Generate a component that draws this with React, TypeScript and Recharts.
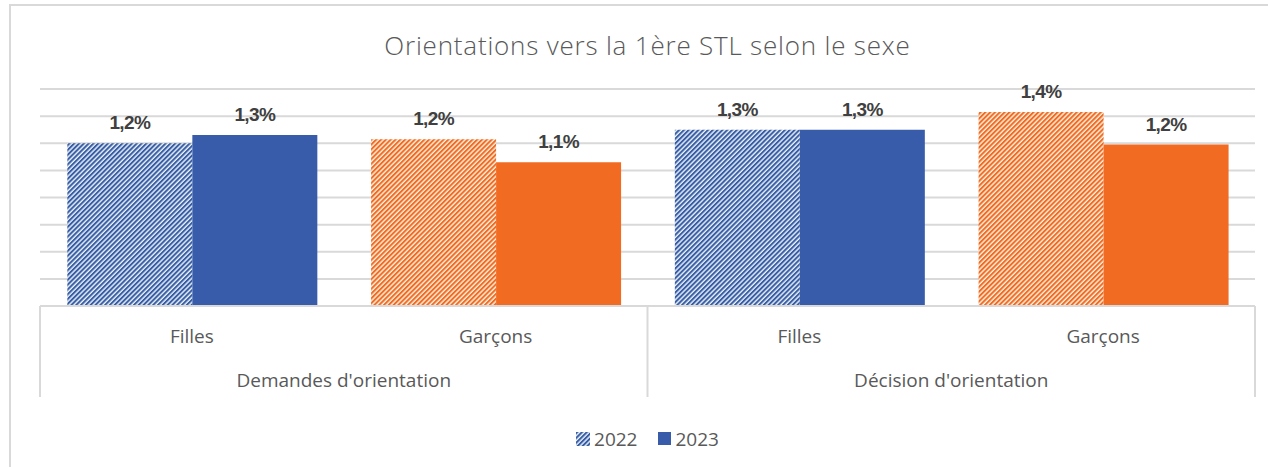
import { Bar, BarChart, CartesianGrid, Cell, LabelList, Legend, XAxis, YAxis } from "recharts";

const categories = ["Filles", "Garçons", "Filles", "Garçons"];
const groups = ["Demandes d'orientation", "Demandes d'orientation", "Décision d'orientation", "Décision d'orientation"];
const values2022 = [1.2, 1.23, 1.3, 1.43];
const values2023 = [1.26, 1.06, 1.3, 1.19];
const yTicks = [0, 0.2, 0.4, 0.6, 0.8, 1.0, 1.2, 1.4, 1.6];

const data = categories.map((c, i) => ({
  sexe: c,
  groupe: groups[i],
  v2022: values2022[i],
  v2023: values2023[i],
}));

const BLUE = "#385CAA";
const ORANGE = "#F26B23";
const TEXT = "#595959";
const GRID = "#d9d9d9";
const FONT = "'Open Sans', sans-serif";
const LABEL_FONT = "'Liberation Sans Narrow', 'Liberation Sans', sans-serif";

const fmt = (v: any) => Number(v).toFixed(1).replace(".", ",") + "%";

const SexeTick = (props: any) => {
  const { x, y, payload } = props;
  return (
    <text x={x} y={y + 37} textAnchor="middle" fill={TEXT} fontSize={19} fontFamily={FONT}>
      {payload.value}
    </text>
  );
};

const GroupTick = (props: any) => {
  const { x, y, payload, index, width, visibleTicksCount } = props;
  const band = (width || 1215) / (visibleTicksCount || 2);
  return (
    <g>
      <line x1={x - band / 2} x2={x - band / 2} y1={y - 44} y2={y + 47} stroke={GRID} strokeWidth={2} />
      {index === (visibleTicksCount || 2) - 1 && (
        <line x1={x + band / 2} x2={x + band / 2} y1={y - 44} y2={y + 47} stroke={GRID} strokeWidth={2} />
      )}
      <text x={x} y={y + 37} textAnchor="middle" fill={TEXT} fontSize={19} fontFamily={FONT}>
        {payload.value}
      </text>
    </g>
  );
};

const LegendContent = () => (
  <div
    style={{
      height: 56,
      paddingTop: 27,
      boxSizing: "border-box",
      display: "flex",
      justifyContent: "center",
      alignItems: "center",
      fontFamily: FONT,
      fontSize: 19,
      color: TEXT,
      lineHeight: "22px",
    }}
  >
    <svg width={14} height={14} style={{ marginRight: 4 }}>
      <rect width={14} height={14} fill="url(#hatchBlue)" />
    </svg>
    <span style={{ marginRight: 20 }}>2022</span>
    <svg width={13} height={13} style={{ marginRight: 5 }}>
      <rect width={13} height={13} fill={BLUE} />
    </svg>
    <span>2023</span>
  </div>
);

const labelStyle = {
  fill: "#404040",
  fontWeight: "bold",
  fontSize: 19,
  letterSpacing: -0.6,
  fontFamily: LABEL_FONT,
};

export default function App() {
  return (
    <div style={{ position: "absolute", left: 0, top: 0, width: 1268, height: 467, overflow: "hidden", background: "#fff" }}>
      <div
        style={{
          position: "absolute",
          left: 9,
          top: 4,
          width: 1300,
          height: 500,
          border: `2px solid ${GRID}`,
        }}
      />
      <div
        style={{
          position: "absolute",
          left: 40,
          width: 1215,
          top: 28,
          textAlign: "center",
          fontFamily: FONT,
          fontSize: 26,
          fontWeight: 300,
          letterSpacing: 0.8,
          color: TEXT,
          lineHeight: "34px",
        }}
      >
        Orientations vers la 1ère STL selon le sexe
      </div>
      <div style={{ position: "absolute", left: 0, top: 0 }}>
        <BarChart
          width={1268}
          height={467}
          data={data}
          margin={{ top: 89, right: 13, left: 40, bottom: 14 }}
          barCategoryGap="9%"
          barGap={0}
        >
          <defs>
            <pattern id="hatchBlue" width={3.4} height={3.4} patternUnits="userSpaceOnUse" patternTransform="rotate(45)">
              <rect width={3.4} height={3.4} fill="#eaf4f1" />
              <rect width={2} height={3.4} fill={BLUE} />
            </pattern>
            <pattern id="hatchOrange" width={3.4} height={3.4} patternUnits="userSpaceOnUse" patternTransform="rotate(45)">
              <rect width={3.4} height={3.4} fill="#fcf2e2" />
              <rect width={2} height={3.4} fill={ORANGE} />
            </pattern>
          </defs>
          <CartesianGrid horizontal vertical={false} stroke={GRID} strokeWidth={2} xAxisId={0} />
          <YAxis hide domain={[0, 1.6]} ticks={yTicks} />
          <XAxis
            xAxisId={0}
            dataKey="sexe"
            height={44}
            tickSize={0}
            tickMargin={0}
            tickLine={false}
            axisLine={{ stroke: GRID, strokeWidth: 2 }}
            tick={<SexeTick />}
            interval={0}
          />
          <XAxis
            xAxisId={1}
            dataKey="groupe"
            allowDuplicatedCategory={false}
            height={47}
            tickSize={0}
            tickMargin={0}
            tickLine={false}
            axisLine={false}
            tick={<GroupTick />}
            interval={0}
          />
          <Legend verticalAlign="bottom" content={<LegendContent />} />
          <Bar dataKey="v2022" name="2022" xAxisId={0} isAnimationActive={false}>
            {data.map((d, i) => (
              <Cell key={i} fill={d.sexe === "Filles" ? "url(#hatchBlue)" : "url(#hatchOrange)"} />
            ))}
            <LabelList dataKey="v2022" position="top" offset={14} formatter={fmt} style={labelStyle} />
          </Bar>
          <Bar dataKey="v2023" name="2023" xAxisId={0} isAnimationActive={false}>
            {data.map((d, i) => (
              <Cell key={i} fill={d.sexe === "Filles" ? BLUE : ORANGE} />
            ))}
            <LabelList dataKey="v2023" position="top" offset={14} formatter={fmt} style={labelStyle} />
          </Bar>
        </BarChart>
      </div>
    </div>
  );
}
